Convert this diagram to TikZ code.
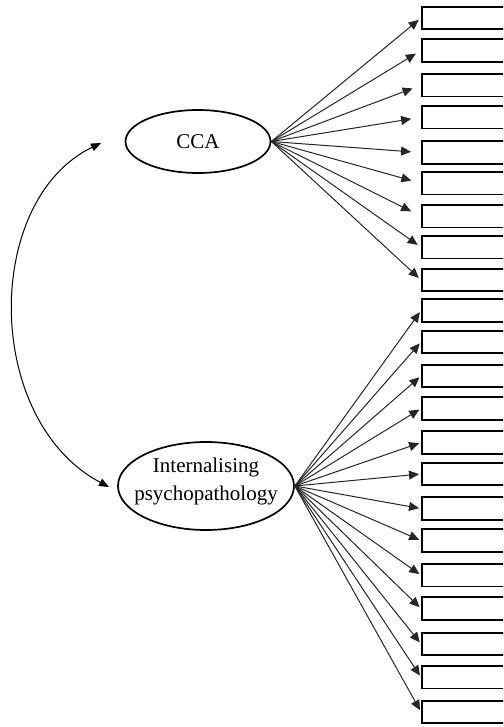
\documentclass[tikz,border=0pt]{standalone}
\usepackage{fontspec}
\setmainfont{Liberation Serif}
\usetikzlibrary{shapes.geometric,arrows.meta}
\begin{document}
\begin{tikzpicture}[x=1pt,y=-1pt,
  latent/.style={draw, ellipse, line width=1.7pt, inner sep=0pt},
  indicator/.style={draw, rectangle, line width=1.9pt, minimum width=110pt, minimum height=22.5pt, anchor=west, inner sep=0pt},
  lbl/.style={font=\fontsize{21}{27.7}\selectfont},
  load/.style={-{Triangle[length=10pt,width=9pt]}, line width=1pt, draw=black!85},
  cov/.style={{Triangle[length=10pt,width=8pt]}-{Triangle[length=10pt,width=8pt]}, line width=1pt}]
\useasboundingbox (0,0) rectangle (503,727);
\clip (0,0) rectangle (503,727);
% indicators
\foreach \yy [count=\i] in {17.95,50.55,85.25,117.25,152.55,183.25,216.25,247.25,279.95,310.55,341.95,375.95,408.55,442.55,473.95,508.55,540.55,575.25,608.55,643.95,677.25,711.95}
  \node[indicator] (b\i) at (421,\yy) {};
% latent variables
\node[latent, lbl, minimum width=145pt, minimum height=63pt] (cca) at (198,141.5) {CCA};
\node[latent, minimum width=176pt, minimum height=88pt] (ip) at (206,486) {};
\node[lbl, align=center, inner sep=0pt] (iptext) at (206,481.5) {Internalising\\psychopathology};
% loadings
\foreach \i/\s in {1/3,2/6,3/9,4/10,5/10,6/10,7/11,8/4,9/3}
  \draw[load, shorten >=\s pt] (cca.east) -- (b\i.west);
\foreach \i in {10,...,22}
  \draw[load, shorten >=2pt] (ip.east) -- (b\i.west);
% covariance
\coordinate (ccaL) at (101,143);
\coordinate (ipL) at (109,487);
\draw[cov] (ipL) .. controls (-17,420) and (-17,200) .. (ccaL);
\end{tikzpicture}
\end{document}
